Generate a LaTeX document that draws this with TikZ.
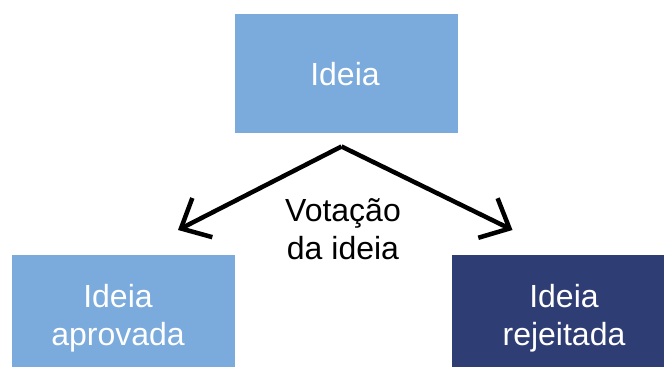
\documentclass[tikz,border=0pt]{standalone}
\usepackage{fontspec}
\setmainfont{Liberation Sans}
\usetikzlibrary{arrows.meta}
\definecolor{lightbox}{HTML}{7BAADC}
\definecolor{darkbox}{HTML}{2F3D75}
\begin{document}
\begin{tikzpicture}[x=1pt,y=-1pt,
  boxstyle/.style={rectangle,inner sep=0pt,draw=none},
  wtext/.style={text=white,align=center,font=\fontsize{32}{38.5}\selectfont,inner sep=0pt},
  btext/.style={text=black,align=center,font=\fontsize{32}{38.5}\selectfont,inner sep=0pt},
  conn/.style={line width=4.5pt,-{Straight Barb[length=24pt,width=44pt]}}]
\useasboundingbox (0,0) rectangle (664,367);
\fill[white] (0,0) rectangle (664,367);
% boxes
\node[boxstyle,fill=lightbox,minimum width=223pt,minimum height=119pt] (top) at (346.5,73.5) {};
\node[boxstyle,fill=lightbox,minimum width=223pt,minimum height=112pt] (left) at (123.5,311) {};
\node[boxstyle,fill=darkbox,minimum width=212pt,minimum height=112pt] (right) at (558,311) {};
% texts
\node[wtext] (toptext) at (345,74) {Ideia};
\node[wtext] (lefttext) at (118,318) {Ideia\\aprovada};
\node[wtext] (righttext) at (564,318) {Ideia\\rejeitada};
\node[btext] (vote) at (343,229) {Votação\\da ideia};
% connectors
\coordinate (apex) at (341.5,146.5);
\coordinate (ltip) at (178,230);
\coordinate (rtip) at (512.5,230);
\draw[conn] (apex) -- (ltip);
\draw[conn] (apex) -- (rtip);
\end{tikzpicture}
\end{document}
